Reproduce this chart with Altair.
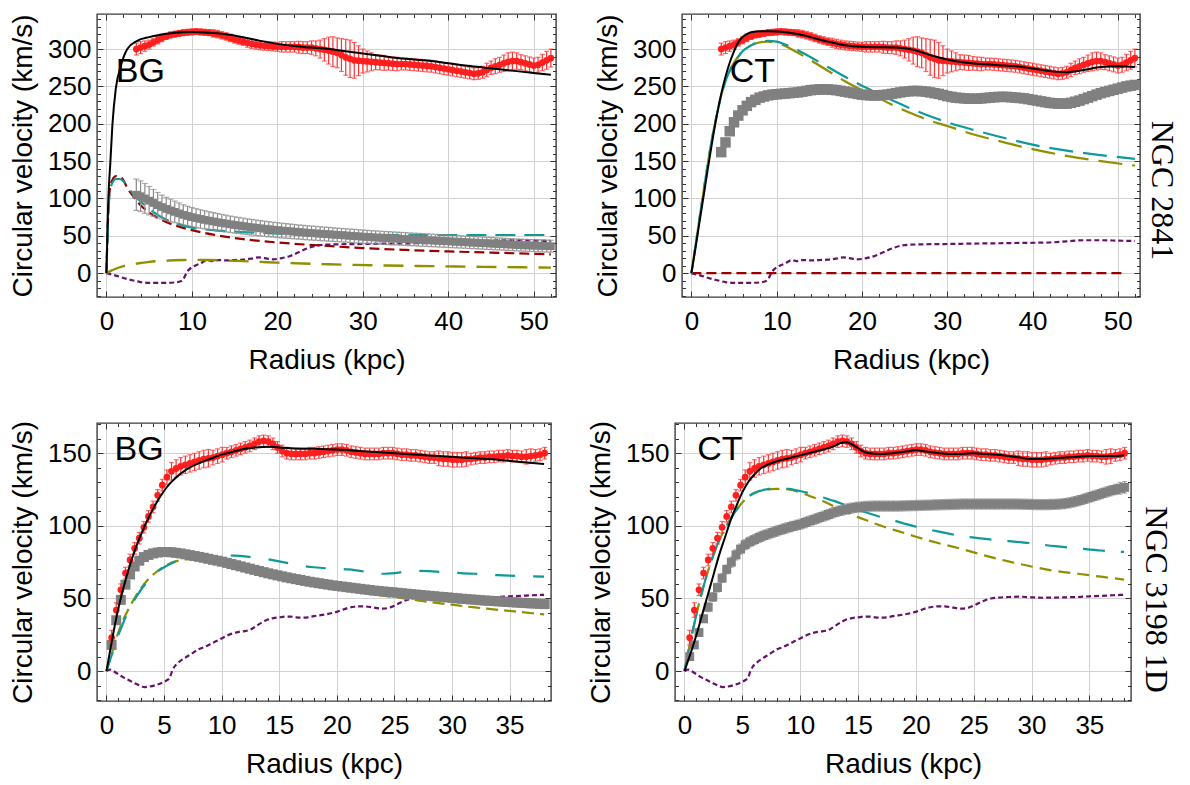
import altair as alt
import pandas as pd

FONT = "Liberation Sans"
SERIF = "Liberation Serif"

# ---------------- axis tick values ----------------
X_MAJ_2841 = [0, 10, 20, 30, 40, 50]
X_MIN_2841 = [2, 4, 6, 8, 12, 14, 16, 18, 22, 24, 26, 28, 32, 34, 36, 38, 42, 44, 46, 48, 52]
Y_MAJ_2841 = [0, 50, 100, 150, 200, 250, 300]
Y_MIN_2841 = [-30, -20, -10, 10, 20, 30, 40, 60, 70, 80, 90, 110, 120, 130, 140, 160, 170, 180, 190,
              210, 220, 230, 240, 260, 270, 280, 290, 310, 320, 330, 340]
X_MAJ_3198 = [0, 5, 10, 15, 20, 25, 30, 35]
X_MIN_3198 = [1, 2, 3, 4, 6, 7, 8, 9, 11, 12, 13, 14, 16, 17, 18, 19, 21, 22, 23, 24, 26, 27, 28, 29,
              31, 32, 33, 34, 36, 37, 38]
Y_MAJ_3198 = [0, 50, 100, 150]
Y_MIN_3198 = [-20, -10, 10, 20, 30, 40, 60, 70, 80, 90, 110, 120, 130, 140, 160, 170]

# ---------------- NGC 2841 data ----------------
R_2841 = [3.5, 4, 4.5, 5, 5.5, 6, 6.5, 7, 7.5, 8,
          8.5, 9, 9.5, 10, 10.5, 11, 11.5, 12, 12.5, 13,
          13.5, 14, 14.5, 15, 15.5, 16, 16.5, 17, 17.5, 18,
          18.5, 19, 19.5, 20, 20.5, 21, 21.5, 22, 22.5, 23,
          23.5, 24, 24.5, 25, 25.5, 26, 26.5, 27, 27.5, 28,
          28.5, 29, 29.5, 30, 30.5, 31, 31.5, 32, 32.5, 33,
          33.5, 34, 34.5, 35, 35.5, 36, 36.5, 37, 37.5, 38,
          38.5, 39, 39.5, 40, 40.5, 41, 41.5, 42, 42.5, 43,
          43.5, 44, 44.5, 45, 45.5, 46, 46.5, 47, 47.5, 48,
          48.5, 49, 49.5, 50, 50.5, 51, 51.5, 52]
OBS_2841 = [300, 302, 304, 306, 309, 312, 315, 317, 319, 320,
            321, 322, 322.5, 323, 323.5, 323, 322.5, 322, 321, 320,
            318.5, 317, 315, 313, 311.5, 310, 308.5, 307, 306, 305,
            304.5, 304, 303.5, 303, 303, 303, 303, 303, 302.5, 302,
            302, 302, 301, 300, 299, 298, 296.5, 295, 292, 289,
            287, 285, 284.5, 284, 283.5, 283, 282.5, 282, 281.5, 281,
            280.5, 280, 280, 280, 279.5, 279, 278.5, 278, 277.5, 277,
            276, 275, 274, 273, 272, 271, 270, 269, 268, 267,
            267.5, 269, 272, 275, 277, 279, 281, 283, 284, 284,
            282.5, 281, 279.5, 278, 279, 282, 285, 288]
OBS_2841_ERR = [8, 8, 7, 6, 5, 5, 5, 4, 4, 4,
                4, 4, 4, 4, 4, 4, 4, 4, 5, 5,
                5, 5, 5, 5, 5, 5, 6, 6, 6, 6,
                6, 6, 6, 6, 7, 7, 7, 7, 8, 8,
                8, 9, 10, 12, 15, 18, 20, 20, 22, 24,
                25, 24, 20, 16, 14, 12, 10, 10, 10, 9,
                9, 9, 8, 8, 8, 8, 8, 8, 8, 8,
                8, 8, 8, 8, 8, 8, 8, 8, 8, 8,
                8, 8, 9, 9, 10, 10, 11, 12, 12, 11,
                10, 10, 10, 10, 10, 11, 12, 12]
GRAY_BG_2841 = [105, 103, 100, 97, 94, 91, 88.5, 86, 84, 82,
                80, 78, 76.5, 75, 73.7, 72.5, 71.3, 70.2, 69.2, 68.2,
                67.2, 66.3, 65.4, 64.5, 63.7, 62.9, 62.1, 61.4, 60.7, 60,
                59.4, 58.8, 58.2, 57.6, 57, 56.5, 56, 55.5, 55, 54.5,
                54, 53.6, 53.2, 52.8, 52.4, 52, 51.6, 51.2, 50.8, 50.4,
                50, 49.6, 49.2, 48.8, 48.4, 48, 47.7, 47.4, 47.1, 46.8,
                46.5, 46.2, 45.9, 45.6, 45.3, 45, 44.7, 44.4, 44.1, 43.8,
                43.5, 43.2, 42.9, 42.6, 42.3, 42, 41.7, 41.4, 41.1, 40.8,
                40.5, 40.2, 39.9, 39.6, 39.3, 39, 38.7, 38.4, 38.1, 37.8,
                37.5, 37.2, 37, 36.8, 36.6, 36.4, 36.2, 36]
GRAY_BG_2841_ERR = [21, 20.5, 20, 19, 18, 17, 16, 15.5, 15, 14.5,
                    14, 13.5, 13, 12.8, 12.6, 12.4, 12.2, 12, 11.8, 11.6,
                    11.4, 11.2, 11, 10.9, 10.8, 10.7, 10.6, 10.5, 10.4, 10.3,
                    10.2, 10.1, 10, 10, 9.9, 9.8, 9.7, 9.6, 9.5, 9.5,
                    9.4, 9.4, 9.3, 9.3, 9.2, 9.2, 9.1, 9.1, 9, 9,
                    9, 9, 8.9, 8.9, 8.9, 8.8, 8.8, 8.8, 8.7, 8.7,
                    8.7, 8.6, 8.6, 8.6, 8.5, 8.5, 8.5, 8.5, 8.4, 8.4,
                    8.4, 8.4, 8.3, 8.3, 8.3, 8.3, 8.2, 8.2, 8.2, 8.2,
                    8.1, 8.1, 8.1, 8.1, 8, 8, 8, 8, 8, 8,
                    8, 8, 8, 8, 8, 8, 8, 8]
GRAY_CT_2841 = [162, 175, 190, 202, 211, 218, 224, 229, 232, 235,
                236.5, 238, 239, 239.5, 240, 240.5, 241, 241.5, 242, 243,
                244, 245, 245.5, 246, 246, 246, 245.5, 245, 244, 243,
                242, 241, 240, 239, 238.5, 238, 238, 238, 238.5, 239,
                240, 241, 242, 243, 243.5, 244, 244, 243.5, 243, 242,
                241, 240, 238.5, 237, 236, 235, 234.5, 234, 233.5, 233.5,
                233.5, 234, 234.5, 235, 235.5, 236, 236, 236, 235.5, 235,
                234.5, 234, 233, 232, 231, 230, 229, 228, 227.5, 227,
                227, 227, 228, 229.5, 231, 233, 235, 237, 239, 241,
                242.5, 244, 245.5, 247, 248.5, 250, 251, 252]

# model curves, NGC 2841 BG
BLACK_BG_2841_R = [0, 0.1, 0.2, 0.3, 0.45, 0.7, 1.1, 1.7, 2.45, 3.6, 5, 6, 7, 8, 10, 12, 14, 16, 18, 20,
                   22, 24, 26, 28, 30, 32, 34, 36, 38, 40, 42, 44, 46, 48, 50, 52]
BLACK_BG_2841_V = [0, 45, 90, 118, 146, 198, 247, 278, 300, 311, 316, 318.5, 320.5, 322, 323, 322, 320, 316, 311, 307,
                   304, 302, 300, 297, 294, 291, 288, 286, 284, 281, 278, 275.5, 273, 270.5, 268, 265.5]
DRED_BG_2841_R = [0, 0.1, 0.2, 0.3, 0.5, 0.8, 1.1, 1.5, 1.9, 2.45, 3, 4, 5, 6, 8, 10, 13, 16, 20, 25, 30, 35, 40, 45, 52]
DRED_BG_2841_V = [0, 40, 75, 100, 118, 127, 130, 129, 126, 114, 105, 91, 81, 74, 64, 57.5, 50.5, 45.5, 41, 37, 33.5, 31, 29, 27.5, 25]
TEAL_BG_2841_R = [0, 0.1, 0.2, 0.3, 0.5, 0.8, 1.1, 1.5, 1.9, 2.45, 3, 4, 5, 6, 8, 10, 13, 16, 20, 25, 30, 35, 40, 45, 52]
TEAL_BG_2841_V = [0, 38, 72, 96, 114, 123, 126, 126, 124, 116, 108, 96, 86, 78, 67, 61, 57, 55, 53, 52, 51.5, 51, 51, 51, 51]
OLIVE_BG_2841_R = [0, 0.5, 1, 2, 3, 4, 5, 6, 7, 8, 9, 10, 12, 14, 16, 18, 20, 23, 26, 29, 32, 35, 38, 41, 44, 47, 50, 52]
OLIVE_BG_2841_V = [0, 3, 5.5, 9.3, 11.8, 13.5, 15, 16, 16.6, 17.2, 17.6, 17.7, 17.5, 16.8, 16, 15, 14, 12.8, 11.8, 11,
                   10.3, 9.8, 9.4, 8.8, 8.4, 8, 7.6, 7.4]
PURPLE_2841_R = [0, 1, 2, 3, 4, 5, 6, 7, 8, 8.7, 9.1, 9.4, 9.7, 10.2, 11, 11.8, 12.3, 13, 14, 15,
                 16, 17, 17.8, 18.5, 19.5, 20.5, 21.5, 22.5, 23.5, 24.5, 25.5, 27, 30, 33, 36, 39, 42, 44, 46, 48, 50, 52]
PURPLE_2841_V = [0, -3, -6.5, -9.5, -12, -13, -13, -13, -12.5, -11, -6, 1, 5, 9, 13, 17.5, 16, 17.5, 17, 17.5,
                 18, 19.5, 21, 20, 18.5, 20, 23, 28, 33, 36.5, 38, 38.5, 39, 39.5, 40, 40.5, 41, 42.5, 44, 44, 43.5, 43]

# model curves, NGC 2841 CT
BLACK_CT_2841_R = [0, 0.5, 1, 1.5, 2, 2.5, 3, 3.5, 4, 4.5, 5, 5.5, 6, 6.5, 7, 8, 9, 10, 11, 12, 13, 14, 16, 18, 20,
                   22, 24, 26, 28, 30, 32, 34, 36, 38, 40, 42, 44, 46, 48, 50, 52]
BLACK_CT_2841_V = [0, 35, 72, 108, 145, 180, 212, 240, 263, 282, 297, 309, 316, 320, 322.5, 324, 324, 323.5, 322.5, 321,
                   319, 316, 310, 305, 303, 302.5, 302, 299, 292, 286, 282, 280, 278.5, 277, 274, 270.5, 269, 272, 276, 277, 276]
TEAL_CT_2841_R = [0, 0.5, 1, 1.5, 2, 2.5, 3, 3.5, 4, 4.5, 5, 5.5, 6, 7, 8, 9, 10, 11, 12, 14, 16, 18, 20, 22, 24, 26,
                  28, 30, 33, 36, 40, 44, 48, 52]
TEAL_CT_2841_V = [0, 38, 77, 115, 152, 185, 213, 238, 257, 271, 282, 290, 297, 305, 310, 311, 310, 306, 301, 289, 276,
                  263, 251, 240, 229, 219, 210, 202, 192, 183, 172, 164, 158, 153]
OLIVE_CT_2841_V = [0, 38, 77, 115, 152, 185, 213, 238, 257, 271, 282, 290, 297, 305, 309, 310, 308, 304, 298, 285, 271,
                   257, 245, 234, 223, 213, 204, 197, 186, 177, 166, 157, 150, 144]
DRED_CT_2841_R = [0, 51]
DRED_CT_2841_V = [0, 0]

# ---------------- NGC 3198 data ----------------
R_3198 = [0.45, 0.85, 1.25, 1.65, 2.05, 2.45, 2.85, 3.25, 3.65, 4.05,
          4.45, 4.85, 5.25, 5.65, 6.05, 6.45, 6.85, 7.25, 7.65, 8.05,
          8.45, 8.85, 9.25, 9.65, 10.05, 10.45, 10.85, 11.25, 11.65, 12.05,
          12.45, 12.85, 13.25, 13.65, 14.05, 14.45, 14.85, 15.25, 15.65, 16.05,
          16.45, 16.85, 17.25, 17.65, 18.05, 18.45, 18.85, 19.25, 19.65, 20.05,
          20.45, 20.85, 21.25, 21.65, 22.05, 22.45, 22.85, 23.25, 23.65, 24.05,
          24.45, 24.85, 25.25, 25.65, 26.05, 26.45, 26.85, 27.25, 27.65, 28.05,
          28.45, 28.85, 29.25, 29.65, 30.05, 30.45, 30.85, 31.25, 31.65, 32.05,
          32.45, 32.85, 33.25, 33.65, 34.05, 34.45, 34.85, 35.25, 35.65, 36.05,
          36.45, 36.85, 37.25, 37.65, 38.05]
OBS_3198 = [23, 42, 56, 67.5, 76.5, 84.5, 91.5, 99, 106.5, 113,
            121, 128, 133.5, 137.5, 139.5, 141, 142, 143, 144, 145,
            146, 146.5, 147, 148, 149, 150, 151, 152, 153, 154,
            155, 156.5, 158, 158.5, 158, 156.5, 154, 151.5, 150, 149.5,
            149.5, 149.5, 149.5, 150, 150, 150.5, 151, 151.5, 152, 152.5,
            152.5, 152, 151, 150.5, 150, 149.5, 149.5, 149.5, 149.5, 150,
            150, 150, 149.5, 149, 149, 148.5, 148.5, 148, 147.5, 147,
            147, 146.5, 146, 146, 145.5, 145.5, 145.5, 146, 146, 146.5,
            147, 147, 147.5, 147.5, 148, 148, 148.5, 148, 148, 147.5,
            147.5, 148, 148.5, 149, 150]
OBS_3198_ERR = [5, 5, 4, 4, 4, 4, 4, 4, 4, 4,
                4, 4, 5, 6, 6, 6, 6, 6, 6, 6,
                6, 6, 5, 5, 5, 4, 4, 4, 4, 4,
                4, 4, 4, 4, 4, 4, 4, 4, 4, 4,
                4, 4, 4, 4, 4, 4, 4, 4, 4, 4,
                4, 4, 4, 4, 4, 4, 4, 4, 4, 4,
                4, 4, 4, 4, 4, 4, 4, 4, 4, 4,
                4, 5, 5, 5, 5, 5, 5, 5, 4, 4,
                4, 4, 4, 4, 4, 4, 4, 4, 4, 4,
                5, 5, 4, 4, 4]
GRAY_BG_3198 = [18, 35, 49, 59.5, 66.5, 72, 76, 78.5, 80, 81,
                81.6, 82, 82, 81.8, 81.4, 81, 80.4, 79.8, 79.2, 78.6,
                78, 77.3, 76.6, 76, 75.3, 74.5, 73.7, 72.9, 72.1, 71.3,
                70.5, 69.7, 68.9, 68.1, 67.3, 66.6, 65.9, 65.2, 64.5, 63.9,
                63.3, 62.7, 62.1, 61.5, 61, 60.5, 60, 59.5, 59, 58.6,
                58.2, 57.8, 57.4, 57, 56.6, 56.2, 55.8, 55.4, 55.1, 54.8,
                54.5, 54.2, 53.9, 53.6, 53.3, 53, 52.7, 52.4, 52.1, 51.8,
                51.5, 51.2, 51, 50.7, 50.4, 50.1, 49.8, 49.6, 49.3, 49.1,
                48.8, 48.6, 48.4, 48.2, 48, 47.8, 47.6, 47.4, 47.2, 47,
                46.8, 46.6, 46.5, 46.3, 46.1]
GRAY_CT_3198 = [10, 18, 26.5, 36, 44, 51, 57.5, 64, 70, 75,
                80, 84, 87, 89, 90.5, 92, 93.3, 94.4, 95.5, 96.6,
                97.6, 98.6, 99.5, 100.3, 101.2, 102.3, 103.4, 104.5, 105.6, 106.7,
                107.8, 109, 110, 110.8, 111.6, 112.2, 112.7, 113, 113.3, 113.5,
                113.6, 113.6, 113.6, 113.6, 113.6, 113.6, 113.7, 113.8, 113.9, 114,
                114.1, 114.2, 114.3, 114.4, 114.5, 114.6, 114.7, 114.8, 114.9, 115,
                115, 115, 115, 115, 115, 115, 115, 115, 115, 115,
                115, 115, 114.9, 114.8, 114.7, 114.6, 114.6, 114.6, 114.7, 114.8,
                115, 115.3, 115.8, 116.5, 117.3, 118.2, 119.2, 120.2, 121.2, 122.2,
                123.2, 124.2, 125, 125.8, 126.5]
GRAY_CT_3198_ERR = [2, 2, 2.5, 2.5, 3, 3, 3, 3, 3, 3.5,
                    3.5, 3.5, 3.5, 3.5, 3.5, 3.5, 3.5, 3.5, 3.5, 3.5,
                    3.5, 3.5, 3.5, 3.5, 3.5, 3.5, 3.5, 3.5, 3.5, 3.5,
                    3.5, 3.5, 3.5, 3.5, 3.5, 3.5, 3.5, 3.5, 3.5, 3.5,
                    3.5, 3.5, 3.5, 3.5, 3.5, 3.5, 3.5, 3.5, 3.5, 3.5,
                    3.5, 3.5, 3.5, 3.5, 3.5, 3.5, 3.5, 3.5, 3.5, 3.5,
                    3.5, 3.5, 3.5, 3.5, 3.5, 3.5, 3.5, 3.5, 3.5, 3.5,
                    3.5, 3.5, 3.5, 3.5, 3.5, 3.5, 3.5, 3.5, 3.5, 3.5,
                    3.5, 3.5, 3.5, 3.5, 3.5, 3.5, 3.5, 3.5, 3.5, 3.5,
                    3.5, 3.5, 3.5, 4, 4]

# model curves, NGC 3198 BG
BLACK_BG_3198_R = [0, 0.5, 1, 1.5, 2, 2.5, 3, 3.5, 4, 4.5, 5, 5.5, 6, 7, 8, 9, 10, 11, 12, 13,
                   14, 15, 16, 18, 20, 22, 24, 26, 28, 30, 32, 34, 36, 38]
BLACK_BG_3198_V = [0, 22, 42, 58, 72, 84, 94, 103, 111, 118, 124, 129, 133, 139, 143, 146, 149, 151, 153, 154,
                   154.5, 154, 153.5, 153, 152.5, 151.5, 150.5, 149.5, 148.5, 147.5, 146.5, 145.5, 144, 142.5]
R_MODEL_3198 = [0, 0.5, 1, 1.5, 2, 2.5, 3, 3.5, 4, 5, 6, 7, 8, 9, 10, 11, 12, 13, 14, 15, 16, 17, 18, 19, 20,
                21, 22, 23, 24, 25, 26, 27, 28, 29, 30, 31, 32, 33, 34, 35, 36, 37, 38]
TEAL_BG_3198_V = [0, 12, 24, 34, 43, 50, 56, 61, 65.5, 71.5, 75.5, 78, 79.3, 79.8, 79.8, 79.5, 79, 78, 77, 75.5,
                  74, 72.5, 71.5, 70.8, 70.5, 70, 69, 68, 67, 67.5, 68.5, 69, 68.8, 68.3, 67.8, 67.3, 67, 66.5,
                  66, 65.7, 65.5, 65.2, 65]
OLIVE_BG_3198_V = [0, 13, 26, 36, 44, 51, 57, 62, 66, 72, 75.5, 77, 76.5, 75, 73, 71, 69, 67, 65.3, 63.7,
                   62.2, 60.8, 59.4, 58, 56.7, 55.5, 54.3, 53.1, 52, 50.9, 49.8, 48.7, 47.6, 46.6, 45.7, 44.7,
                   43.8, 43, 42.2, 41.4, 40.6, 39.8, 39]
PURPLE_3198_R = [0, 0.3, 0.6, 1, 1.5, 2, 2.5, 3, 3.3, 3.7, 4.2, 4.7, 5.2, 5.5, 5.7, 5.9, 6.2, 6.6, 7, 7.5,
                 8, 8.5, 9, 9.5, 10, 10.5, 11, 11.5, 12, 12.5, 13, 13.5, 14, 14.5, 15, 15.5, 16, 16.5, 17, 17.5,
                 18, 19, 20, 21, 21.5, 22, 22.5, 23, 23.5, 24, 24.5, 25, 25.5, 26, 26.5, 27, 28, 29, 30, 31,
                 32, 33, 34, 35, 36, 37, 38]
PURPLE_3198_V = [0, 1, 0, -2, -4.5, -6.5, -8.5, -10.3, -11, -10.7, -9.8, -8.5, -6.5, -4.5, 0, 3, 5.5, 8, 10, 12.5,
                 15, 16.5, 18.5, 20.5, 22.5, 24.5, 26, 27, 27.5, 28.5, 31, 33.5, 35.5, 36.5, 37, 37.5, 37.5, 37, 36.8, 37,
                 37.8, 39, 40.8, 43.5, 44.3, 44.6, 44.5, 44, 43.3, 43, 43.5, 45, 47, 48.8, 50, 50.5, 51, 51.2, 50.8, 50.5,
                 50.6, 50.8, 51, 51.5, 51.8, 52.2, 52.5]

# model curves, NGC 3198 CT
BLACK_CT_3198_R = [0, 0.3, 0.6, 1, 1.5, 2, 2.5, 3, 3.5, 4, 4.5, 5, 5.5, 6, 6.5, 7, 8, 9, 10, 11,
                   12, 13, 13.5, 14, 14.5, 15, 15.5, 16, 17, 18, 19, 20, 21, 22, 23, 24, 25, 26, 27, 28,
                   29, 30, 31, 32, 33, 34, 35, 36, 37, 38]
BLACK_CT_3198_V = [0, 7, 14, 24, 38, 52, 66, 80, 92, 104, 114, 123, 130, 135, 139, 141.5, 144.5, 146.5, 148.5, 150.5,
                   152.5, 155, 157, 157.5, 156, 153.5, 151, 150, 149.5, 150, 151, 152, 151, 150, 149.5, 149.5, 150, 149.5, 149, 148,
                   147, 146, 146, 146.5, 147, 147.5, 148, 148, 148, 148.5]
R_CT_3198 = [0, 0.5, 1, 1.5, 2, 2.5, 3, 3.5, 4, 4.5, 5, 5.5, 6, 7, 8, 9, 10, 11, 12, 13, 14, 15, 16, 17, 18, 19, 20,
             22, 24, 26, 28, 30, 32, 34, 36, 38]
TEAL_CT_3198_V = [0, 20, 38, 54, 68, 80, 90, 98, 105, 111, 116, 120, 122.5, 125, 126, 125.5, 124, 122, 119.5, 117,
                  114, 111, 108.5, 106, 104, 101.5, 99.5, 96, 93, 91, 89.5, 88, 86, 84.5, 83, 82]
OLIVE_CT_3198_V = [0, 20, 38, 54, 68, 80, 90, 98, 105, 111, 116, 120, 122.5, 125, 125.5, 125, 123, 120, 117, 113,
                   109.5, 106, 103, 100, 97.5, 95, 92.5, 88, 84, 79.5, 75.5, 72, 69, 67, 65, 63]

# ---------------- styles ----------------
C_RED, C_RED_ERR = "#ff1f1f", "#ff3030"
C_GRAY, C_GRAY_ERR = "#808080", "#8a8a8a"
C_TEAL, C_OLIVE, C_DRED, C_PURPLE, C_BLACK = "#0f9a9a", "#8f8f00", "#990000", "#66116a", "#000000"

DOM_X_2841, DOM_Y_2841 = [-1.1, 52.6], [-32, 347]
DOM_X_3198, DOM_Y_3198 = [-0.82, 38.6], [-20.6, 170.8]


def X(f, s):
    return alt.X(f + ":Q", scale=s, axis=None)


def Y(f, s):
    return alt.Y(f + ":Q", scale=s, axis=None)


def line(r, v, xs, ys, color, width, dash=None, offset=None):
    assert len(r) == len(v), (len(r), len(v))
    kw = dict(color=color, strokeWidth=width, interpolate="monotone")
    if dash:
        kw["strokeDash"] = dash
    if offset:
        kw["strokeDashOffset"] = offset
    return alt.Chart(pd.DataFrame({"r": r, "v": v})).mark_line(**kw).encode(x=X("r", xs), y=Y("v", ys))


def points(r, v, err, xs, ys, color, shape, size, ecolor, cap):
    assert len(r) == len(v), (len(r), len(v))
    df = pd.DataFrame({"r": r, "v": v})
    out = []
    if err is not None:
        assert len(err) == len(v), (len(err), len(v))
        df["lo"] = [a - b for a, b in zip(v, err)]
        df["hi"] = [a + b for a, b in zip(v, err)]
        base = alt.Chart(df)
        out.append(base.mark_rule(color=ecolor, strokeWidth=1.2).encode(
            x=X("r", xs), y=Y("lo", ys), y2=alt.Y2("hi:Q")))
        out.append(base.mark_tick(color=ecolor, orient="horizontal", size=cap, thickness=1.2).encode(
            x=X("r", xs), y=Y("lo", ys)))
        out.append(base.mark_tick(color=ecolor, orient="horizontal", size=cap, thickness=1.2).encode(
            x=X("r", xs), y=Y("hi", ys)))
    out.append(alt.Chart(df).mark_point(shape=shape, filled=True, size=size, color=color, opacity=1,
                                        strokeWidth=0).encode(x=X("r", xs), y=Y("v", ys)))
    return out


def panel(xs, ys, xmaj, xmin, ymaj, ymin, W, H, data_layers, label, label_pos, right_title=None, title_pad=10):
    helper = pd.DataFrame({"x": [xmaj[1]], "y": [ymaj[1]]})

    def ax(xa, ya):
        return alt.Chart(helper).mark_point(opacity=0, size=1).encode(
            x=alt.X("x:Q", scale=xs, axis=xa), y=alt.Y("y:Q", scale=ys, axis=ya))

    def tick_axis(orient, vals, size):
        return alt.Axis(orient=orient, values=vals, ticks=True, tickSize=size, offset=-size,
                        labels=False, domain=False, grid=False, title=None)

    grid = ax(
        alt.Axis(orient="bottom", values=xmaj, grid=True, ticks=False, tickSize=0, domain=False,
                 labelPadding=11, labelFlush=False, labelOverlap=False,
                 title="Radius (kpc)", titlePadding=12),
        alt.Axis(orient="left", values=ymaj, grid=True, ticks=False, tickSize=0, domain=False,
                 labelPadding=6, labelFlush=False, labelOverlap=False,
                 title="Circular velocity (km/s)", titlePadding=10))
    ticks = [ax(tick_axis("bottom", xmaj, 6), tick_axis("left", ymaj, 6)),
             ax(tick_axis("bottom", xmin, 3.5), tick_axis("left", ymin, 3.5)),
             ax(tick_axis("top", xmaj, 6), tick_axis("right", ymaj, 6)),
             ax(tick_axis("top", xmin, 3.5), tick_axis("right", ymin, 3.5))]
    lab = alt.Chart(pd.DataFrame({"r": [label_pos[0]], "v": [label_pos[1]], "t": [label]})).mark_text(
        align="left", baseline="alphabetic", font=FONT, fontSize=34, color="black"
    ).encode(x=X("r", xs), y=Y("v", ys), text="t:N")
    layers = [grid] + data_layers + ticks + [lab]
    if right_title:
        layers.append(ax(None, alt.Axis(orient="right", labels=False, ticks=False, tickSize=0, domain=False,
                                        grid=False, title=right_title, titleFont=SERIF, titleFontSize=32,
                                        titleFontWeight="normal", titleAngle=90, titleAlign="center",
                                        titlePadding=title_pad, titleY=176)))
    return alt.layer(*layers).resolve_axis(x="independent", y="independent").properties(width=W, height=H)


XS1 = alt.Scale(domain=DOM_X_2841, nice=False, zero=False)
YS1 = alt.Scale(domain=DOM_Y_2841, nice=False, zero=False)
XS2 = alt.Scale(domain=DOM_X_3198, nice=False, zero=False)
YS2 = alt.Scale(domain=DOM_Y_3198, nice=False, zero=False)

# ---- top-left: NGC 2841 BG
tl_layers = [
    line(PURPLE_2841_R, PURPLE_2841_V, XS1, YS1, C_PURPLE, 2.2, [5, 3]),
    line(DRED_BG_2841_R, DRED_BG_2841_V, XS1, YS1, C_DRED, 2.2, [10, 5]),
    line(OLIVE_BG_2841_R, OLIVE_BG_2841_V, XS1, YS1, C_OLIVE, 2.4, [20, 11]),
    line(TEAL_BG_2841_R, TEAL_BG_2841_V, XS1, YS1, C_TEAL, 2.2, [20, 9]),
] + points(R_2841, GRAY_BG_2841, GRAY_BG_2841_ERR, XS1, YS1, C_GRAY, "square", 60, C_GRAY_ERR, 6) \
  + points(R_2841, OBS_2841, OBS_2841_ERR, XS1, YS1, C_RED, "circle", 45, C_RED_ERR, 5) \
  + [line(BLACK_BG_2841_R, BLACK_BG_2841_V, XS1, YS1, C_BLACK, 2)]

# ---- top-right: NGC 2841 CT
tr_layers = [
    line(PURPLE_2841_R, PURPLE_2841_V, XS1, YS1, C_PURPLE, 2.2, [5, 3]),
    line(DRED_CT_2841_R, DRED_CT_2841_V, XS1, YS1, C_DRED, 2.2, [10, 5]),
    line(TEAL_CT_2841_R, OLIVE_CT_2841_V, XS1, YS1, C_OLIVE, 2.2, [24, 10]),
    line(TEAL_CT_2841_R, TEAL_CT_2841_V, XS1, YS1, C_TEAL, 2.2, [24, 10], 17),
] + points(R_2841, GRAY_CT_2841, None, XS1, YS1, C_GRAY, "square", 110, C_GRAY_ERR, 6) \
  + points(R_2841, OBS_2841, OBS_2841_ERR, XS1, YS1, C_RED, "circle", 45, C_RED_ERR, 5) \
  + [line(BLACK_CT_2841_R, BLACK_CT_2841_V, XS1, YS1, C_BLACK, 2)]

# ---- bottom-left: NGC 3198 BG
bl_layers = [
    line(PURPLE_3198_R, PURPLE_3198_V, XS2, YS2, C_PURPLE, 2.2, [5, 3]),
    line(R_MODEL_3198, OLIVE_BG_3198_V, XS2, YS2, C_OLIVE, 2.2, [12, 6]),
    line(R_MODEL_3198, TEAL_BG_3198_V, XS2, YS2, C_TEAL, 2.2, [20, 18]),
] + points(R_3198, GRAY_BG_3198, None, XS2, YS2, C_GRAY, "square", 100, C_GRAY_ERR, 6) \
  + points(R_3198, OBS_3198, OBS_3198_ERR, XS2, YS2, C_RED, "circle", 45, C_RED_ERR, 5) \
  + [line(BLACK_BG_3198_R, BLACK_BG_3198_V, XS2, YS2, C_BLACK, 2)]

# ---- bottom-right: NGC 3198 CT
br_layers = [
    line(PURPLE_3198_R, PURPLE_3198_V, XS2, YS2, C_PURPLE, 2.2, [5, 3]),
    line(R_CT_3198, OLIVE_CT_3198_V, XS2, YS2, C_OLIVE, 2.2, [12, 7]),
    line(R_CT_3198, TEAL_CT_3198_V, XS2, YS2, C_TEAL, 2.2, [22, 16]),
] + points(R_3198, GRAY_CT_3198, GRAY_CT_3198_ERR, XS2, YS2, C_GRAY, "square", 80, C_GRAY_ERR, 5) \
  + points(R_3198, OBS_3198, OBS_3198_ERR, XS2, YS2, C_RED, "circle", 45, C_RED_ERR, 5) \
  + [line(BLACK_CT_3198_R, BLACK_CT_3198_V, XS2, YS2, C_BLACK, 2)]

p_tl = panel(XS1, YS1, X_MAJ_2841, X_MIN_2841, Y_MAJ_2841, Y_MIN_2841, 459, 283, tl_layers, "BG", [1.1, 256])
p_tr = panel(XS1, YS1, X_MAJ_2841, X_MIN_2841, Y_MAJ_2841, Y_MIN_2841, 458, 283, tr_layers, "CT", [4.5, 256],
             right_title="NGC 2841", title_pad=4)
p_bl = panel(XS2, YS2, X_MAJ_3198, X_MIN_3198, Y_MAJ_3198, Y_MIN_3198, 454, 278, bl_layers, "BG", [0.7, 145])
p_br = panel(XS2, YS2, X_MAJ_3198, X_MIN_3198, Y_MAJ_3198, Y_MIN_3198, 456, 278, br_layers, "CT", [1.1, 145],
             right_title="NGC 3198 1D", title_pad=7)

top = alt.hconcat(p_tl, p_tr, spacing=35)
bottom = alt.hconcat(p_bl, p_br, spacing=33)

chart = alt.vconcat(top, bottom, spacing=44).properties(
    padding={"left": 0, "top": 4, "right": 0, "bottom": 0}, background="white"
).configure_view(stroke="#3c3c3c", strokeWidth=1.4).configure_axis(
    labelFont=FONT, titleFont=FONT, labelFontSize=26, titleFontSize=28, labelColor="black",
    titleColor="black", titleFontWeight="normal", tickColor="#333333", tickWidth=1,
    gridColor="#d2d2d2", gridWidth=1, gridOpacity=1
)

chart.save("out.html", embed_options={"renderer": "svg", "actions": False})
